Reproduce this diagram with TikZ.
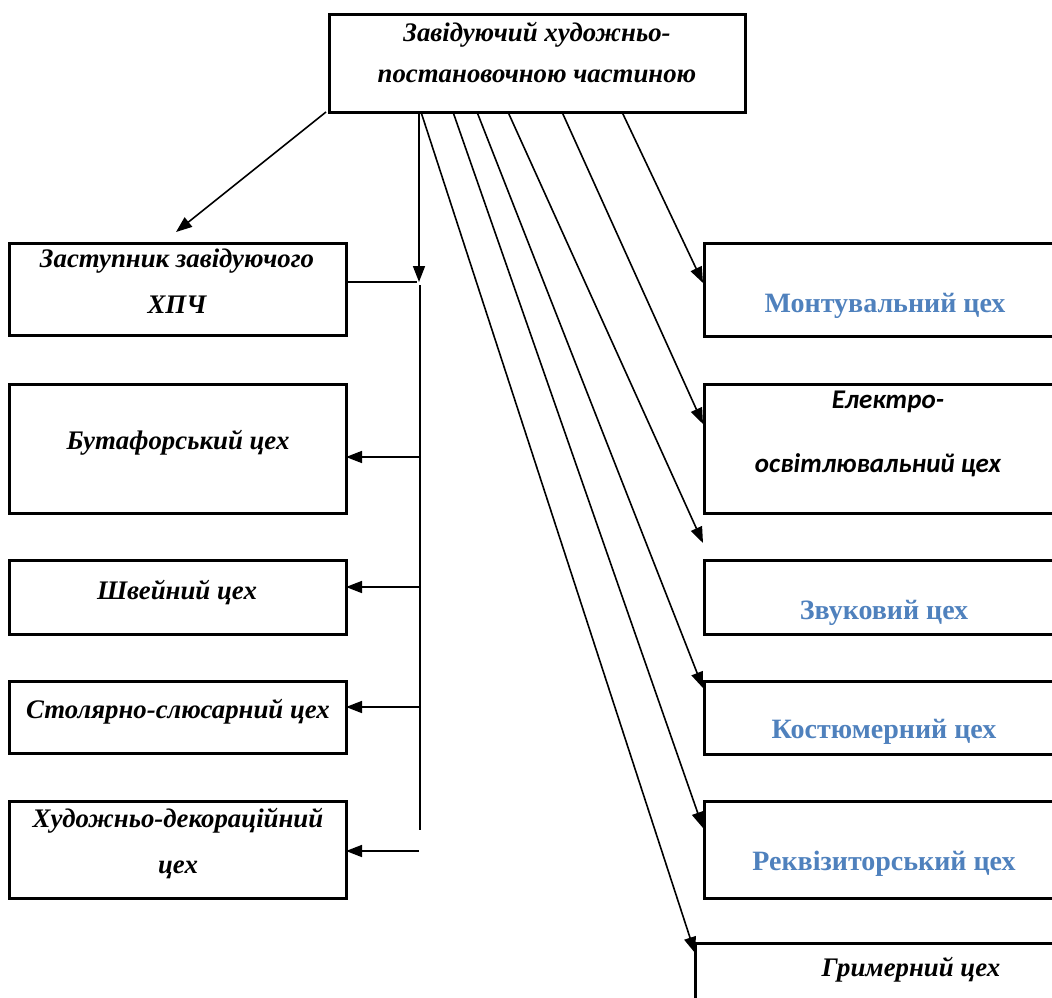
\documentclass[tikz,border=0pt]{standalone}
\usepackage{fontspec}
\setmainfont{Liberation Serif}
\newfontfamily\calib{Carlito}
\usetikzlibrary{arrows.meta}
\definecolor{wordblue}{HTML}{4F81BD}
\tikzset{
  boxline/.style={draw=black,line width=3pt},
  lt/.style={font=\fontsize{26.8}{26.8}\selectfont\bfseries\itshape,anchor=base,inner sep=0pt},
  bt/.style={font=\fontsize{28}{28}\selectfont\bfseries,text=wordblue,anchor=base,inner sep=0pt},
  ct/.style={font=\calib\fontsize{27}{27}\selectfont\bfseries\itshape,anchor=base,inner sep=0pt},
  conn/.style={line width=1.6pt},
  arr/.style={line width=1.6pt,-{Triangle[length=16pt,width=12pt]}}
}
\begin{document}
\begin{tikzpicture}[x=1pt,y=-1pt]
\useasboundingbox (0,0) rectangle (1052,998);
% boxes
\path[boxline] (329,15) rectangle (745,112);
\path[boxline] (9,243) rectangle (346,335);
\path[boxline] (9,384) rectangle (346,513);
\path[boxline] (9,560) rectangle (346,634);
\path[boxline] (9,681) rectangle (346,753);
\path[boxline] (9,801) rectangle (346,898);
\path[boxline] (1060,243) -- (704,243) -- (704,336) -- (1060,336);
\path[boxline] (1060,384) -- (704,384) -- (704,513) -- (1060,513);
\path[boxline] (1060,560) -- (704,560) -- (704,634) -- (1060,634);
\path[boxline] (1060,681) -- (704,681) -- (704,754) -- (1060,754);
\path[boxline] (1060,801) -- (704,801) -- (704,898) -- (1060,898);
\path[boxline] (1060,943) -- (695,943) -- (695,1005);
% texts
\node[lt] (t1) at (537,42) {Завідуючий художньо-};
\node[lt] (t2) at (537,82) {постановочною частиною};
\node[lt] (l1a) at (177,267) {Заступник завідуючого};
\node[lt] (l1b) at (177,313) {ХПЧ};
\node[lt] (l2) at (178,449) {Бутафорський цех};
\node[lt] (l3) at (177,599) {Швейний цех};
\node[lt] (l4) at (178,718) {Столярно-слюсарний цех};
\node[lt] (l5a) at (178,827) {Художньо-декораційний};
\node[lt] (l5b) at (178,873) {цех};
\node[bt] (r1) at (885,312) {Монтувальний цех};
\node[ct] (r2a) at (888,408) {Електро-};
\node[ct] (r2b) at (878,472) {освітлювальний цех};
\node[bt] (r3) at (884,619) {Звуковий цех};
\node[bt] (r4) at (884,738) {Костюмерний цех};
\node[bt] (r5) at (884,870) {Реквізиторський цех};
\node[lt] (r6) at (911,976) {Гримерний цех};
% coordinates
\coordinate (d0s) at (326,112); \coordinate (d0e) at (176,232);
\coordinate (vs) at (419,113); \coordinate (ve) at (419,282);
\coordinate (hs) at (346,282); \coordinate (he) at (417,282);
\coordinate (bs) at (420,285); \coordinate (be) at (420,830);
\coordinate (a2s) at (419,457); \coordinate (a2e) at (346,457);
\coordinate (a3s) at (419,587); \coordinate (a3e) at (346,587);
\coordinate (a4s) at (419,707); \coordinate (a4e) at (346,707);
\coordinate (a5s) at (419,851); \coordinate (a5e) at (346,851);
\coordinate (r1s) at (622,112); \coordinate (r1e) at (703,283);
\coordinate (r2s) at (562,112); \coordinate (r2e) at (703,424);
\coordinate (r3s) at (508,112); \coordinate (r3e) at (703,543);
\coordinate (r4s) at (477,112); \coordinate (r4e) at (703,688);
\coordinate (r5s) at (453,112); \coordinate (r5e) at (703,828);
\coordinate (r6s) at (421,112); \coordinate (r6e) at (695,953);
% connectors
\draw[arr] (d0s) -- (d0e);
\draw[arr] (vs) -- (ve);
\draw[conn] (hs) -- (he);
\draw[conn] (bs) -- (be);
\draw[arr] (a2s) -- (a2e);
\draw[arr] (a3s) -- (a3e);
\draw[arr] (a4s) -- (a4e);
\draw[arr] (a5s) -- (a5e);
\draw[arr] (r1s) -- (r1e);
\draw[arr] (r2s) -- (r2e);
\draw[arr] (r3s) -- (r3e);
\draw[arr] (r4s) -- (r4e);
\draw[arr] (r5s) -- (r5e);
\draw[arr] (r6s) -- (r6e);
\end{tikzpicture}
\end{document}
